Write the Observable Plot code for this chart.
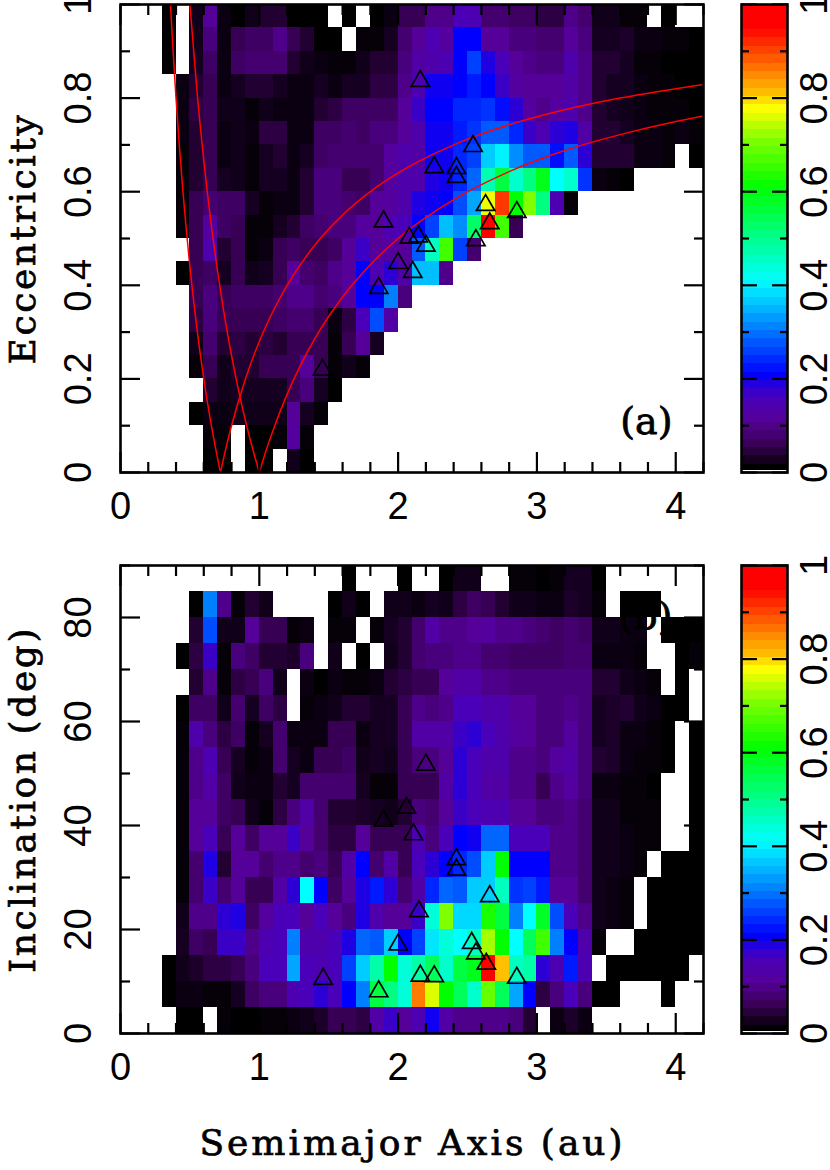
<!DOCTYPE html>
<html><head><meta charset="utf-8">
<script src="https://cdn.jsdelivr.net/npm/d3@7"></script>
<script src="https://cdn.jsdelivr.net/npm/@observablehq/plot@0.6"></script>
<style>
html,body{margin:0;padding:0;background:#fff}
#page{position:relative;width:830px;height:1170px;overflow:hidden}
#page>svg,#page>div{position:absolute}
#xlab{left:0;width:825px;text-align:center;top:1122px;font:normal 36px "DejaVu Serif";letter-spacing:3px;color:#000;white-space:nowrap;-webkit-text-stroke:.7px #000}
g[aria-label$="axis label"] text{letter-spacing:2.6px;stroke:#000;stroke-width:.7px}
</style></head><body><div id="page"><div id="xlab">Semimajor Axis (au)</div></div>
<script>
const N = null;
// semimajor-axis bins, lower edges 0.0, 0.1 ... 4.1 au
const aLower = d3.range(42).map(i => i / 10);

// density per eccentricity bin (lower edge in the name, hundredths)
const e95=[N,N,N,0,N,.015,.1,.01,0,.015,.03,.03,0,0,0,N,0,N,0,.01,.05,.05,.09,.09,.15,.14,.07,.07,.06,.06,.04,.04,.09,.07,.015,.015,.005,.005,N,0,N,N];
const e90=[N,N,N,0,N,.015,.08,.01,.05,.06,.06,.09,.05,.03,0,0,N,.005,.005,.02,.07,.1,.14,.11,.2,.2,.1,.1,.08,.08,.07,.07,.1,.08,.02,.02,.025,.01,.01,.005,.005,0];
const e85=[N,N,N,0,N,.02,.06,.01,.06,.07,.07,.07,.03,.015,.01,.005,.005,.015,.03,.03,.08,.12,.13,.14,.2,.25,.18,.15,.1,.09,.08,.08,.13,.09,.03,.03,.02,.005,.005,0,0,0];
const e80=[N,N,N,N,.01,.03,.05,.01,.02,.03,.03,.02,.01,.01,.02,.01,.02,.02,.04,.04,.09,.14,.19,.19,.2,.22,.2,.16,.11,.1,.1,.1,.12,.09,.03,.02,.02,.01,.005,.005,0,0];
const e75=[N,N,N,N,.01,.04,.05,.015,.015,.005,.015,.01,.01,.01,.03,.04,.06,.06,.06,.06,.1,.16,.2,.2,.23,.23,.24,.21,.17,.11,.09,.11,.13,.09,.03,.02,.015,.01,.005,.005,.005,0];
const e70=[N,N,N,N,.01,.03,.05,.01,.015,.01,.04,.04,.01,.01,.06,.06,.07,.06,.08,.08,.1,.13,.19,.19,.22,.24,.27,.27,.23,.16,.14,.17,.18,.12,.03,.03,.02,.01,.01,.005,.01,.005];
const e65=[N,N,N,N,.005,.03,.05,.01,.015,.005,.02,.03,.01,.02,.06,.07,.07,.07,.07,.11,.13,.12,.19,.19,.23,.25,.36,.39,.31,.27,.27,.21,.27,.17,.03,.03,.03,.01,.01,.005,N,0];
const e60=[N,N,N,N,.005,.03,.05,.02,.015,.005,.02,.02,.01,.03,.08,.08,.05,.05,.07,.11,.13,.13,.18,.19,.23,.28,.46,.55,.44,.5,.58,.4,.44,.24,.01,.005,0,N,N,N,N,N];
const e55=[N,N,N,N,.005,.05,.07,.06,.06,.02,.005,.01,.01,.03,.08,.08,.07,.06,.1,.11,.13,.18,.19,.2,.26,.33,.76,.9,.6,.7,.5,.14,.005,N,N,N,N,N,N,N,N,N];
const e50=[N,N,N,N,.005,.05,.11,.06,.05,.005,.005,.02,.03,.06,.07,.08,.08,.11,.1,.14,.15,.2,.25,.35,.31,.52,1,.65,.05,N,N,N,N,N,N,N,N,N,N,N,N,N];
const e45=[N,N,N,N,N,.05,.13,.03,.05,.005,.01,.05,.06,.05,.05,.06,.1,.16,.1,.11,.1,.27,.45,.65,.25,.07,N,N,N,N,N,N,N,N,N,N,N,N,N,N,N,N];
const e40=[N,N,N,N,0,.05,.06,.02,.05,.015,.02,.05,.1,.07,.06,.09,.1,.2,.14,.17,.12,.35,.35,.09,N,N,N,N,N,N,N,N,N,N,N,N,N,N,N,N,N,N];
const e35=[N,N,N,N,N,.05,.08,.05,.06,.06,.06,.07,.09,.09,.07,.08,.1,.2,.2,.3,.08,N,N,N,N,N,N,N,N,N,N,N,N,N,N,N,N,N,N,N,N,N];
const e30=[N,N,N,N,N,.04,.08,.05,.05,.05,.05,.06,.07,.07,.05,.01,.04,.15,.26,.12,N,N,N,N,N,N,N,N,N,N,N,N,N,N,N,N,N,N,N,N,N,N];
const e25=[N,N,N,N,N,.015,.07,.03,.04,.03,.04,.03,.05,.05,.05,.005,.05,.1,.02,N,N,N,N,N,N,N,N,N,N,N,N,N,N,N,N,N,N,N,N,N,N,N];
const e20=[N,N,N,N,N,.005,.05,.015,.03,.03,.05,.05,.05,.1,.05,.005,.015,.005,N,N,N,N,N,N,N,N,N,N,N,N,N,N,N,N,N,N,N,N,N,N,N,N];
const e15=[N,N,N,N,N,N,.03,.015,.02,.02,.02,.02,.05,.08,.02,0,N,N,N,N,N,N,N,N,N,N,N,N,N,N,N,N,N,N,N,N,N,N,N,N,N,N];
const e10=[N,N,N,N,N,0,.01,.01,.015,.015,.015,.015,.1,.02,.005,N,N,N,N,N,N,N,N,N,N,N,N,N,N,N,N,N,N,N,N,N,N,N,N,N,N,N];
const e05=[N,N,N,N,N,N,.005,.005,N,0,0,.005,.11,.005,N,N,N,N,N,N,N,N,N,N,N,N,N,N,N,N,N,N,N,N,N,N,N,N,N,N,N,N];
const e00=[N,N,N,N,N,N,0,0,N,0,0,N,.015,0,N,N,N,N,N,N,N,N,N,N,N,N,N,N,N,N,N,N,N,N,N,N,N,N,N,N,N,N];
const eccRows=[e00,e05,e10,e15,e20,e25,e30,e35,e40,e45,e50,e55,e60,e65,e70,e75,e80,e85,e90,e95];

// density per inclination bin (lower edge in the name, degrees)
const i85=[N,N,N,N,N,N,N,N,N,N,N,N,N,N,N,N,0,N,N,N,0,N,N,0,.015,.015,N,N,.005,.005,0,.005,.02,.02,0,N,N,N,N,N,N,N];
const i80=[N,N,N,N,N,0,.3,.09,.005,.03,.015,N,N,N,N,0,.015,0,N,.015,.015,.01,.02,.015,.04,.06,.05,.03,.015,.015,.01,.01,.025,.02,.005,N,0,0,0,N,N,N];
const i75=[N,N,N,N,N,.03,.26,.015,.015,.1,.05,.05,.005,.01,N,.005,.005,N,.005,.02,.03,.07,.12,.09,.09,.1,.11,.09,.09,.08,.07,.06,.07,.06,.015,.015,.01,.01,N,0,0,0];
const i70=[N,N,N,N,0,.04,.16,.005,.08,.06,.03,.03,.025,.08,N,.015,N,0,N,.015,.03,.07,.08,.08,.09,.09,.07,.07,.06,.06,.06,.06,.07,.07,.01,.01,.01,.005,N,N,0,.005];
const i65=[N,N,N,N,N,.03,.09,.005,.04,.05,.08,.015,N,.01,0,.01,.005,.005,.01,.03,.04,.05,.05,.1,.12,.12,.09,.09,.08,.08,.08,.08,.08,.08,.03,.03,.015,.01,.005,N,0,N];
const i60=[N,N,N,N,0,.06,.06,.015,.07,.02,.06,.04,N,.005,.01,.015,.03,.03,.02,.02,.05,.09,.08,.09,.15,.15,.13,.13,.1,.1,.08,.08,.09,.08,.02,.025,.03,.015,.01,0,0,N];
const i55=[N,N,N,N,.005,.13,.08,.04,.06,.005,.02,.07,.01,.01,.01,.05,.05,.01,.02,.02,.05,.12,.12,.12,.16,.17,.15,.13,.11,.1,.08,.08,.11,.08,.02,.025,.01,.01,.005,0,N,0];
const i50=[N,N,N,N,.005,.09,.14,.05,.02,.005,.01,.07,.02,.01,.05,.05,.06,.015,.02,.015,.05,.08,.08,.1,.17,.15,.13,.13,.09,.09,.08,.11,.12,.08,.03,.025,.01,.005,.005,0,N,0];
const i45=[N,N,N,N,.005,.09,.12,.06,.015,.01,.01,.03,.02,.07,.07,.07,.07,.02,.005,.005,.05,.05,.05,.12,.17,.15,.12,.12,.09,.09,.05,.09,.11,.08,.01,.01,.005,.005,0,N,N,0];
const i40=[N,N,N,N,.005,.1,.1,.06,.05,.015,.005,.04,.08,.12,.07,.03,.03,.025,.02,.015,.03,.08,.07,.1,.16,.15,.14,.14,.1,.1,.08,.08,.09,.07,.015,.015,.005,.005,.005,N,N,0];
const i35=[N,N,N,N,.005,.1,.15,.05,.1,.06,.1,.1,.16,.1,.07,.04,.04,.1,.05,.05,.05,.14,.08,.15,.2,.19,.28,.28,.15,.15,.15,.09,.09,.07,.015,.015,.01,.005,.005,N,N,0];
const i30=[N,N,N,N,.005,.07,.18,.03,.1,.1,.07,.09,.09,.07,.08,.05,.12,.2,.07,.12,.05,.15,.17,.2,.23,.26,.36,.6,.2,.2,.2,.09,.09,.07,.015,.015,.01,.005,N,0,0,0];
const i25=[N,N,N,N,.005,.07,.16,.07,.1,.05,.05,.12,.17,.4,.2,.06,.1,.18,.22,.17,.07,.12,.23,.28,.27,.36,.36,.45,.24,.25,.22,.1,.1,.07,.015,.01,.005,N,0,0,0,0];
const i20=[N,N,N,N,.015,.09,.09,.17,.18,.06,.11,.15,.15,.1,.15,.1,.08,.18,.13,.1,.1,.16,.43,.7,.37,.37,.62,.55,.3,.4,.57,.26,.15,.09,.015,.01,.005,N,0,0,0,0];
const i15=[N,N,N,N,.02,.06,.05,.16,.16,.09,.14,.15,.3,.13,.13,.15,.18,.28,.27,.36,.2,.25,.38,.43,.4,.45,.72,.6,.4,.53,.65,.3,.2,.13,.005,N,N,0,0,0,0,0];
const i10=[N,N,N,0,.015,.025,.04,.04,.05,.08,.15,.15,.33,.15,.14,.15,.25,.36,.47,.6,.43,.47,.53,.44,.55,.58,1,.8,.45,.47,.17,.14,.22,.14,N,0,0,0,0,0,0,N];
const i05=[N,N,N,0,.01,.01,.005,.005,.02,.06,.08,.08,.14,.15,.17,.15,.2,.3,.55,.5,.43,.85,.75,.6,.53,.44,.68,.53,.33,.2,.04,.08,.15,.08,0,0,N,N,N,0,N,N];
const i00=[N,N,N,N,0,0,N,.005,0,0,.005,.005,.01,.015,.025,.05,.05,.04,.12,.16,.1,.14,.19,.12,.09,.09,.09,.09,.08,.03,N,.01,.025,.01,N,N,N,N,N,N,N,N];
const incRows=[i00,i05,i10,i15,i20,i25,i30,i35,i40,i45,i50,i55,i60,i65,i70,i75,i80,i85];

// the 17 objects marked with triangles
const objA  =[2.16,2.54,2.26,2.42,2.42,2.63,2.855,2.66,2.56,2.145,2.08,2.2,2.105,2.0,1.86,1.455,1.895];
const objEcc=[.842,.703,.658,.656,.637,.577,.562,.538,.502,.51,.507,.49,.434,.453,.40,.225,.542];
const objIncA=[2.42,2.42,2.66,2.15,2.53,2.56,2.635,2.16,2.26,2.855,2.11,1.895,2.06,2.0,1.46,1.86,2.2];
const objInc =[34,32,26.9,24,17.9,15.9,13.9,11.6,11.5,11.2,38.8,41.4,43.9,17.6,11,8.6,52.2];

// red curves
const curveQ72a=[.36,.38,.4,.45,.5,.55,.6,.65,.7,.72];
const curveQ72e=[1,.895,.8,.6,.44,.309,.2,.108,.029,0];
const curveQ1a =[.5,.55,.6,.65,.7,.75,.8,.85,.9,.95,1];
const curveQ1e =[1,.818,.667,.538,.429,.333,.25,.176,.111,.053,0];
const curveq72a=[.72,.75,.8,.9,1,1.1,1.2,1.4,1.6,1.8,2,2.4,2.8,3.2,3.6,4,4.2];
const curveq72e=[0,.04,.1,.2,.28,.345,.4,.486,.55,.6,.64,.7,.743,.775,.8,.82,.829];
const curveq1a =[1,1.05,1.1,1.2,1.3,1.4,1.6,1.8,2,2.4,2.8,3.2,3.6,4,4.2];
const curveq1e =[0,.048,.091,.167,.231,.286,.375,.444,.5,.583,.643,.688,.722,.75,.762];

const colorStops=[0,.05,.1,.15,.2,.3,.4,.5,.6,.7,.77,.8,.9,.94,1];
const colorHex=["#000000","#380054","#550098","#4a00b8","#0000ff","#0080ff","#00ffff","#00ff80","#00ff00","#80ff00","#ffff00","#ffc000","#ff3800","#ff0000","#ff0000"];
const colorScale={type:"linear",domain:colorStops,range:colorHex,interpolate:"rgb",clamp:true};
const barLevels=d3.range(56).map(i=>i/56);

const sans='"Liberation Sans"', serif='"DejaVu Serif"';
const fmt=d=>d3.format("~g")(d);
const W=830, ML=120, MR=127, FS=38, TW=2.2;

function cellTable(rows,step){
  const out=[];
  rows.forEach((r,j)=>r.forEach((v,i)=>{ if(v!==null) out.push({a0:aLower[i],a1:aLower[i]+.1,y0:j*step,y1:(j+1)*step,v}); }));
  return out;
}
function tickAxes(opts){
  const {yMajor,yMinor,yFmt}=opts, xMajor=[0,1,2,3,4], xMinor=[.2,.4,.6,.8,1.2,1.4,1.6,1.8,2.2,2.4,2.6,2.8,3.2,3.4,3.6,3.8,4.2];
  const tk={strokeWidth:TW,fill:"none",label:null};
  return [
    Plot.axisX({anchor:"bottom",ticks:xMajor,tickSize:-20,...tk}),
    Plot.axisX({anchor:"bottom",ticks:xMinor,tickSize:-10,...tk}),
    Plot.axisX({anchor:"top",ticks:xMajor,tickSize:-20,...tk}),
    Plot.axisX({anchor:"top",ticks:xMinor,tickSize:-10,...tk}),
    Plot.axisY({anchor:"left",ticks:yMajor,tickSize:-20,...tk}),
    Plot.axisY({anchor:"left",ticks:yMinor,tickSize:-10,...tk}),
    Plot.axisY({anchor:"right",ticks:yMajor,tickSize:-20,...tk}),
    Plot.axisY({anchor:"right",ticks:yMinor,tickSize:-10,...tk}),
    Plot.axisX({anchor:"bottom",ticks:xMajor,tickSize:0,tickPadding:20,fontSize:FS,fontFamily:sans,tickFormat:fmt,label:null}),
    Plot.axisY({anchor:"left",ticks:yMajor,tickSize:0,tickPadding:30,tickRotate:-90,fontSize:FS,fontFamily:sans,tickFormat:yFmt,label:null})
  ];
}
function panel(o){
  return Plot.plot({
    width:W,height:o.height,marginLeft:ML,marginRight:MR,marginTop:4,marginBottom:o.height-472,
    style:{background:"transparent",overflow:"visible"},
    x:{domain:[0,4.2],axis:null},
    y:{domain:o.yDomain,axis:null},
    color:colorScale,
    marks:[
      Plot.rect(cellTable(o.rows,o.step),{x1:"a0",x2:"a1",y1:"y0",y2:"y1",fill:"v",shapeRendering:"crispEdges"}),
      ...(o.curves||[]).map(([a,e])=>Plot.line(a.map((v,k)=>({a:v,e:e[k]})),{x:"a",y:"e",stroke:"#ff0000",strokeWidth:1.5,curve:"monotone-x",clip:true})),
      Plot.dot(o.ax.map((v,k)=>({a:v,y:o.ay[k]})),{x:"a",y:"y",symbol:"triangle",r:6.8,stroke:"#000",strokeWidth:1.7,fill:"none",dy:2.7}),
      Plot.text([o.tag],{frameAnchor:o.tagAnchor,dx:o.tagDx,dy:o.tagDy,fontFamily:serif,fontSize:38,stroke:"#000",strokeWidth:.8,fill:"#000"}),
      Plot.frame({stroke:"#000",strokeWidth:2.6}),
      ...tickAxes(o),
      Plot.axisY({anchor:"left",ticks:[],label:o.ylabel,labelAnchor:"center",labelArrow:"none",labelOffset:o.labelOffset,fontFamily:serif,fontSize:36})
    ]
  });
}
function colorbar(){
  const major=[0,.2,.4,.6,.8,1], minor=[.1,.3,.5,.7,.9];
  const side=a=>[
    Plot.axisY({anchor:a,ticks:major,tickSize:-16,strokeWidth:TW,fill:"none",label:null}),
    Plot.axisY({anchor:a,ticks:minor,tickSize:-8,strokeWidth:TW,fill:"none",label:null})
  ];
  return Plot.plot({
    width:89,height:472+4+6,marginLeft:2,marginRight:41,marginTop:4,marginBottom:10,
    style:{background:"transparent",overflow:"visible"},
    y:{domain:[0,1],axis:null},
    color:colorScale,
    marks:[
      Plot.rectY(barLevels.slice(0),{y1:d=>Math.max(d,.0045),y2:d=>d+1/56,fill:d=>d,shapeRendering:"crispEdges"}),
      Plot.frame({stroke:"#000",strokeWidth:2.6}),
      ...side("left"),...side("right"),
      Plot.axisY({anchor:"right",ticks:major,tickSize:0,tickPadding:39,tickRotate:-90,fontSize:FS,fontFamily:sans,tickFormat:fmt,label:null})
    ]
  });
}
const page=document.getElementById("page");
const place=(el,l,t)=>{el.style.left=l+"px";el.style.top=t+"px";page.appendChild(el);};
place(panel({height:560,yDomain:[0,1],rows:eccRows,step:.05,ax:objA,ay:objEcc,
  curves:[[curveQ72a,curveQ72e],[curveQ1a,curveQ1e],[curveq72a,curveq72e],[curveq1a,curveq1e]],
  yMajor:[0,.2,.4,.6,.8,1],yMinor:[.1,.3,.5,.7,.9],yFmt:fmt,
  tag:"(a)",tagAnchor:"bottom-right",tagDx:-31,tagDy:-39,ylabel:"Eccentricity",labelOffset:111}),0,0);
place(panel({height:560,yDomain:[0,90],rows:incRows,step:5,ax:objIncA,ay:objInc,
  yMajor:[0,20,40,60,80],yMinor:[10,30,50,70,90],yFmt:fmt,
  tag:"(b)",tagAnchor:"top-right",tagDx:-31,tagDy:37,ylabel:"Inclination (deg)",labelOffset:111}),0,561);
place(colorbar(),739,0);
place(colorbar(),739,561);
</script></body></html>
